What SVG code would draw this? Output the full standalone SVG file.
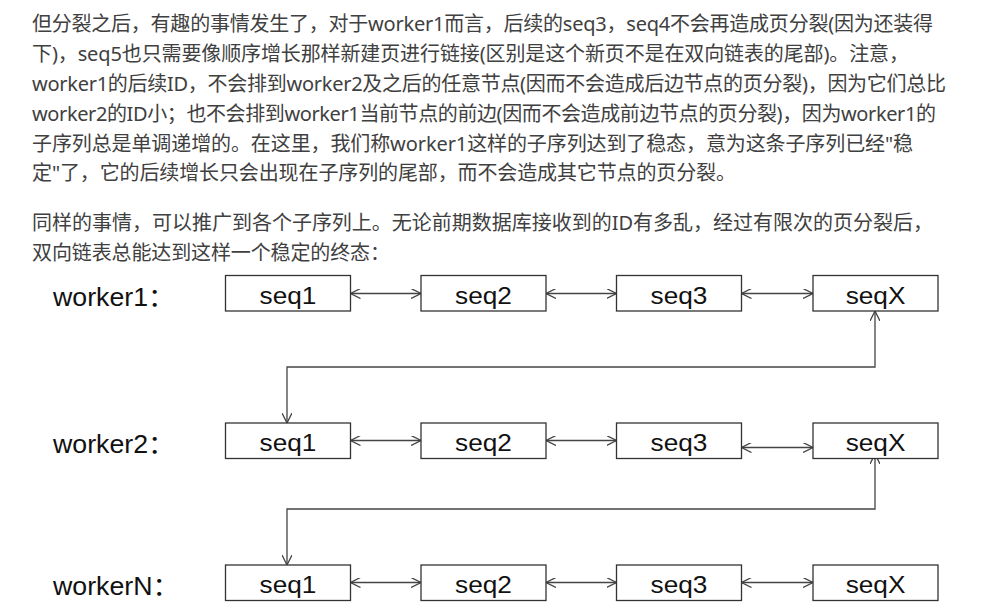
<svg xmlns="http://www.w3.org/2000/svg" width="985" height="613" viewBox="0 0 985 613">
<style>
.p{font-family:"Noto Sans","Noto Sans CJK SC",sans-serif;font-size:20px;fill:#404040}
.box{fill:#fff;stroke:#333;stroke-width:1.3}
.t{font-family:"Liberation Sans",Arial,sans-serif;font-size:24.5px;fill:#111;text-anchor:middle}
.lbl{font-family:"Liberation Sans","Noto Sans CJK SC",sans-serif;font-size:25px;fill:#111}
.c{fill:none;stroke:#444;stroke-width:1.3}
</style>
<defs>
<marker id="ah" viewBox="0 0 10 10" refX="10" refY="5" markerWidth="10" markerHeight="10" markerUnits="userSpaceOnUse" orient="auto-start-reverse">
<path d="M0,0 L10,5 L0,10" fill="none" stroke="#444" stroke-width="1.3"/>
</marker>
</defs>
<rect width="985" height="613" fill="#fff"/>
<g id="paragraph">
<text class="p" x="32" y="31" textLength="901" lengthAdjust="spacing">但分裂之后，有趣的事情发生了，对于worker1而言，后续的seq3，seq4不会再造成页分裂(因为还装得</text>
<text class="p" x="32" y="61" textLength="877" lengthAdjust="spacing">下)，seq5也只需要像顺序增长那样新建页进行链接(区别是这个新页不是在双向链表的尾部)。注意，</text>
<text class="p" x="32" y="91" textLength="914" lengthAdjust="spacing">worker1的后续ID，不会排到worker2及之后的任意节点(因而不会造成后边节点的页分裂)，因为它们总比</text>
<text class="p" x="32" y="121" textLength="904" lengthAdjust="spacing">worker2的ID小；也不会排到worker1当前节点的前边(因而不会造成前边节点的页分裂)，因为worker1的</text>
<text class="p" x="32" y="150.5" textLength="881" lengthAdjust="spacing">子序列总是单调递增的。在这里，我们称worker1这样的子序列达到了稳态，意为这条子序列已经"稳</text>
<text class="p" x="32" y="180" textLength="704" lengthAdjust="spacing">定"了，它的后续增长只会出现在子序列的尾部，而不会造成其它节点的页分裂。</text>
<text class="p" x="32" y="230" textLength="901" lengthAdjust="spacing">同样的事情，可以推广到各个子序列上。无论前期数据库接收到的ID有多乱，经过有限次的页分裂后，</text>
<text class="p" x="32" y="260" textLength="358" lengthAdjust="spacing">双向链表总能达到这样一个稳定的终态：</text>
</g>
<g id="connectors">
<path class="c" d="M350.5,293.5 H421" marker-start="url(#ah)" marker-end="url(#ah)"/>
<path class="c" d="M546,293.5 H616.5" marker-start="url(#ah)" marker-end="url(#ah)"/>
<path class="c" d="M741.5,293.5 H813" marker-start="url(#ah)" marker-end="url(#ah)"/>
<path class="c" d="M875,311 V367 H287 V423" marker-start="url(#ah)" marker-end="url(#ah)"/>
<path class="c" d="M350.5,440.5 H421" marker-start="url(#ah)" marker-end="url(#ah)"/>
<path class="c" d="M546,440.5 H616.5" marker-start="url(#ah)" marker-end="url(#ah)"/>
<path class="c" d="M741.5,447.5 H813" marker-start="url(#ah)" marker-end="url(#ah)"/>
<path class="c" d="M875,454 V509 H287 V565" marker-start="url(#ah)" marker-end="url(#ah)"/>
<path class="c" d="M350.5,582.5 H421" marker-start="url(#ah)" marker-end="url(#ah)"/>
<path class="c" d="M546,582.5 H616.5" marker-start="url(#ah)" marker-end="url(#ah)"/>
<path class="c" d="M741.5,582.5 H813" marker-start="url(#ah)" marker-end="url(#ah)"/>
</g>
<g id="label-worker1"><text class="lbl" transform="translate(53,306) scale(1.07,1)">worker1：</text></g>
<g id="label-worker2"><text class="lbl" transform="translate(53,453) scale(1.07,1)">worker2：</text></g>
<g id="label-workerN"><text class="lbl" transform="translate(53,595) scale(1.07,1)">workerN：</text></g>
<g id="w1-seq1"><rect class="box" x="225.5" y="275.5" width="125" height="35.5"/><text class="t" transform="translate(288,303.5) scale(1.07,1)">seq1</text></g>
<g id="w1-seq2"><rect class="box" x="421" y="275.5" width="125" height="35.5"/><text class="t" transform="translate(483.5,303.5) scale(1.07,1)">seq2</text></g>
<g id="w1-seq3"><rect class="box" x="616.5" y="275.5" width="125" height="35.5"/><text class="t" transform="translate(679,303.5) scale(1.07,1)">seq3</text></g>
<g id="w1-seqX"><rect class="box" x="813" y="275.5" width="125" height="35.5"/><text class="t" transform="translate(875.5,303.5) scale(1.07,1)">seqX</text></g>
<g id="w2-seq1"><rect class="box" x="225.5" y="423" width="125" height="35.5"/><text class="t" transform="translate(288,451) scale(1.07,1)">seq1</text></g>
<g id="w2-seq2"><rect class="box" x="421" y="423" width="125" height="35.5"/><text class="t" transform="translate(483.5,451) scale(1.07,1)">seq2</text></g>
<g id="w2-seq3"><rect class="box" x="616.5" y="423" width="125" height="35.5"/><text class="t" transform="translate(679,451) scale(1.07,1)">seq3</text></g>
<g id="w2-seqX"><rect class="box" x="813" y="423" width="125" height="35.5"/><text class="t" transform="translate(875.5,451) scale(1.07,1)">seqX</text></g>
<g id="wN-seq1"><rect class="box" x="225.5" y="565" width="125" height="35.5"/><text class="t" transform="translate(288,593) scale(1.07,1)">seq1</text></g>
<g id="wN-seq2"><rect class="box" x="421" y="565" width="125" height="35.5"/><text class="t" transform="translate(483.5,593) scale(1.07,1)">seq2</text></g>
<g id="wN-seq3"><rect class="box" x="616.5" y="565" width="125" height="35.5"/><text class="t" transform="translate(679,593) scale(1.07,1)">seq3</text></g>
<g id="wN-seqX"><rect class="box" x="813" y="565" width="125" height="35.5"/><text class="t" transform="translate(875.5,593) scale(1.07,1)">seqX</text></g>
</svg>
